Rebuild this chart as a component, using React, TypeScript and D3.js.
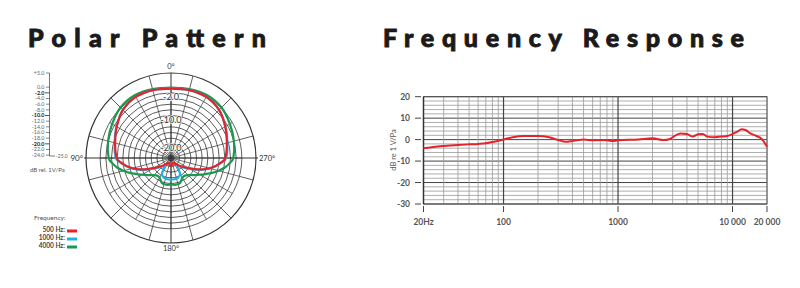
import React from "react";
import * as d3 from "d3";

// ---------- Polar pattern data (dB, symmetric, angles 0..180) ----------
const polarAngles = [0, 15, 30, 45, 60, 75, 90, 95, 100, 105, 110, 115, 120, 130, 140, 150, 160, 170, 180];
const red500 = [-0.5, -0.2, -0.1, -1.0, -2.9, -4.6, -5.8, -7.2, -9, -11, -13.3, -15.7, -17.8, -20.5, -22, -23, -23, -22.5, -22.3];
const blue1000 = [-0.5, -0.2, -0.1, -1.0, -2.8, -4.4, -5.5, -7, -8.8, -10.7, -12.9, -15.3, -17.5, -20, -21.5, -18.6, -17.6, -17.4, -17.4];
const green4000 = [-0.2, 0.2, 0.6, 0.2, -1.0, -2.0, -3.0, -4.2, -5.7, -7.6, -9.6, -11.6, -13.2, -15.6, -17, -17, -15.6, -15.4, -15.6];
const scaleTicks = [5, 0, -2, -4, -6, -8, -10, -12, -14, -16, -18, -20, -22, -24];
const boldTicks = [-2, -10, -20];
const ringLevels = [0, -2, -4, -6, -8, -10, -12, -14, -16, -18, -20, -22, -24];
const legendItems = [
  { label: "500 Hz:", color: "#e5232b" },
  { label: "1000 Hz:", color: "#20b3e8" },
  { label: "4000 Hz:", color: "#1b9a4f" },
];

// ---------- Frequency response data ----------
const freqs = [20, 30, 40, 50, 60, 70, 80, 90, 100, 120, 150, 200, 250, 300, 350, 400, 450, 500, 600, 700, 800, 900, 1000, 1500, 2000, 2500, 2800, 3000, 3500, 4000, 4500, 5000, 5500, 6000, 7000, 8000, 9000, 10000, 11000, 12000, 13000, 14000, 16000, 18000, 20000];
const response = [-4.0, -3.0, -2.5, -2.2, -2.0, -1.7, -1.1, -0.5, 0.1, 1.1, 1.7, 1.7, 1.1, -0.2, -1.0, -0.6, -0.2, 0, -0.3, -0.2, -0.3, -0.7, -0.3, 0.1, 0.6, -0.2, 0.2, 1.1, 2.9, 2.6, 1.4, 2.5, 2.6, 1.4, 1.1, 1.4, 1.7, 2.6, 3.7, 4.8, 4.5, 3.2, 1.8, 0.3, -3.3];
const yTicks = [20, 10, 0, -10, -20, -30];
const xTickVals = [20, 100, 1000, 10000, 20000];
const xTickLabels = ["20Hz", "100", "1000", "10 000", "20 000"];

const FONT = "Lato, 'Open Sans', Arial, sans-serif";

export default function App() {
  const cx = 171, cy = 158;
  const rScale = d3.scaleLinear().domain([-25, 5]).range([0, 85]);
  const toRad = (deg: number) => (deg * Math.PI) / 180;

  const fullCurve = (vals: number[]) => {
    const pts: [number, number][] = [];
    polarAngles.forEach((a, i) => pts.push([toRad(a), rScale(vals[i])]));
    for (let i = polarAngles.length - 2; i >= 1; i--) {
      pts.push([toRad(360 - polarAngles[i]), rScale(vals[i])]);
    }
    return d3
      .lineRadial<[number, number]>()
      .angle((d) => d[0])
      .radius((d) => d[1])
      .curve(d3.curveCardinalClosed.tension(0.2))(pts) as string;
  };

  const innerSpokes = d3.range(0, 360, 15);
  const outerSpokes = d3.range(15, 360, 30);
  const r0 = rScale(0);

  const x = d3.scaleLog().domain([20, 20000]).range([423.5, 767]);
  const y = d3.scaleLinear().domain([-30, 20]).range([204, 96.7]);
  const minorF: number[] = [];
  [10, 100, 1000, 10000].forEach((dec) => {
    for (let k = 1; k <= 9; k++) {
      const f = dec * k;
      if (f >= 20 && f <= 20000) minorF.push(f);
    }
  });
  const hLines = d3.range(-30, 21, 2);
  const frLine = d3
    .line<number>()
    .x((_, i) => x(freqs[i]))
    .y((d) => y(d))
    .curve(d3.curveMonotoneX)(response) as string;

  return (
    <svg
      width={800}
      height={288}
      style={{ position: "absolute", left: 0, top: 0, background: "#fff" }}
      fontFamily={FONT}
    >
      {/* Titles */}
      <text x={28} y={47} fontSize={25} fontWeight={900} fill="#1a1a1a" stroke="#1a1a1a" strokeWidth={0.9} textLength={238} lengthAdjust="spacing">
        Polar Pattern
      </text>
      <text x={383} y={47} fontSize={25} fontWeight={900} fill="#1a1a1a" stroke="#1a1a1a" strokeWidth={0.9} textLength={361} lengthAdjust="spacing">
        Frequency Response
      </text>

      {/* ---------- Polar chart ---------- */}
      <g transform={`translate(${cx},${cy})`}>
        {ringLevels.map((lv) => (
          <circle key={lv} r={rScale(lv)} fill="none" stroke="#333" strokeWidth={0.8} />
        ))}
        <circle r={rScale(5)} fill="none" stroke="#333" strokeWidth={1.2} />
        {innerSpokes.map((a) => (
          <line
            key={"s" + a}
            x1={0}
            y1={0}
            x2={-r0 * Math.sin(toRad(a))}
            y2={-r0 * Math.cos(toRad(a))}
            stroke="#333"
            strokeWidth={0.7}
          />
        ))}
        {outerSpokes.map((a) => (
          <line
            key={"o" + a}
            x1={-r0 * Math.sin(toRad(a))}
            y1={-r0 * Math.cos(toRad(a))}
            x2={-rScale(5) * Math.sin(toRad(a))}
            y2={-rScale(5) * Math.cos(toRad(a))}
            stroke="#333"
            strokeWidth={0.8}
          />
        ))}
        <line x1={-rScale(5) - 2} y1={0} x2={rScale(5) + 2} y2={0} stroke="#333" strokeWidth={1} />
        <line x1={0} y1={-rScale(5)} x2={0} y2={rScale(5)} stroke="#333" strokeWidth={1} />

        {[-2, -10, -20].map((lv) => (
          <text
            key={"rl" + lv}
            x={0}
            y={-rScale(lv) + 7}
            fontSize={9}
            textAnchor="middle"
            fill="#333"
            stroke="#fff"
            strokeWidth={1.5}
            paintOrder="stroke"
          >
            {lv.toFixed(1)}
          </text>
        ))}

        <path d={fullCurve(green4000)} fill="none" stroke="#1b9a4f" strokeWidth={2.2} />
        <path d={fullCurve(blue1000)} fill="none" stroke="#20b3e8" strokeWidth={2.2} />
        <path d={fullCurve(red500)} fill="none" stroke="#e5232b" strokeWidth={2.2} />

        <text x={0} y={-rScale(5) - 4} fontSize={7.5} textAnchor="middle" fill="#333">0°</text>
        <text x={0} y={rScale(5) + 8} fontSize={7.5} textAnchor="middle" fill="#333">180°</text>
        <text x={-rScale(5) - 3} y={3} fontSize={8} textAnchor="end" fill="#333">90°</text>
        <text x={rScale(5) + 3} y={3} fontSize={7.5} textAnchor="start" fill="#333">270°</text>
      </g>

      {/* left dB scale */}
      <g>
        <line x1={49.5} y1={cy - rScale(5)} x2={49.5} y2={cy - rScale(-25) - 2} stroke="#555" strokeWidth={0.8} />
        <line x1={49.5} y1={cy - 2} x2={55} y2={cy - 2} stroke="#555" strokeWidth={0.8} />
        {scaleTicks.map((t) => {
          const yy = cy - rScale(t);
          const b = boldTicks.includes(t);
          return (
            <g key={"t" + t}>
              <line x1={b ? 45 : 46} y1={yy} x2={49.5} y2={yy} stroke="#555" strokeWidth={b ? 1 : 0.7} />
              <text x={44.5} y={yy + 1.8} fontSize={5.4} textAnchor="end" fill={b ? "#222" : "#666"} fontWeight={b ? 700 : 400}>
                {t > 0 ? "+" + t.toFixed(1) : t.toFixed(1)}
              </text>
            </g>
          );
        })}
        <text x={56} y={cy - 0.3} fontSize={5} fill="#666">-25.0</text>
        <text x={30} y={172} fontSize={6} fill="#555">dB rel. 1V/Pa</text>
      </g>

      {/* legend */}
      <g>
        <text x={34} y={220} fontSize={6.5} fill="#555">Frequency:</text>
        {legendItems.map((it, i) => (
          <g key={it.label}>
            <text x={65} y={232 + i * 8} fontSize={6.5} textAnchor="end" fill="#444" fontWeight={700}>
              {it.label}
            </text>
            <rect x={67} y={229.5 + i * 8} width={10} height={3} fill={it.color} />
          </g>
        ))}
      </g>

      {/* ---------- Frequency response ---------- */}
      <g>
        {hLines.map((v) => (
          <line
            key={"h" + v}
            x1={x(20)}
            x2={x(20000)}
            y1={y(v)}
            y2={y(v)}
            stroke={v % 10 === 0 ? "#444" : "#999"}
            strokeWidth={v % 10 === 0 ? 1 : 0.8}
          />
        ))}
        {minorF.map((f) => {
          const major = f === 100 || f === 1000 || f === 10000;
          return (
            <line
              key={"v" + f}
              x1={x(f)}
              x2={x(f)}
              y1={y(20)}
              y2={y(-30)}
              stroke={major ? "#444" : "#999"}
              strokeWidth={major ? 1.2 : 0.8}
            />
          );
        })}
        <rect x={x(20)} y={y(20)} width={x(20000) - x(20)} height={y(-30) - y(20)} fill="none" stroke="#555" strokeWidth={1} />
        <line x1={x(20)} x2={x(20)} y1={y(20)} y2={y(-30)} stroke="#333" strokeWidth={1.5} />

        {yTicks.map((t) => (
          <g key={"yt" + t}>
            <line x1={415} x2={421} y1={y(t)} y2={y(t)} stroke="#444" strokeWidth={1} />
            <text x={410} y={y(t) + 3} fontSize={8.5} textAnchor="end" fill="#555" fontWeight={700}>
              {t}
            </text>
          </g>
        ))}
        {xTickVals.map((f, i) => (
          <g key={"xt" + f}>
            <line x1={x(f)} x2={x(f)} y1={206} y2={212} stroke="#444" strokeWidth={1} />
            <text x={x(f)} y={225} fontSize={8.5} textAnchor="middle" fill="#555" fontWeight={700}>
              {xTickLabels[i]}
            </text>
          </g>
        ))}
        <text transform={`translate(396,150) rotate(-90)`} fontSize={7.5} textAnchor="middle" fill="#555">
          dB re 1 V/Pa
        </text>

        <path d={frLine} fill="none" stroke="#e5232b" strokeWidth={2} />
      </g>
    </svg>
  );
}
